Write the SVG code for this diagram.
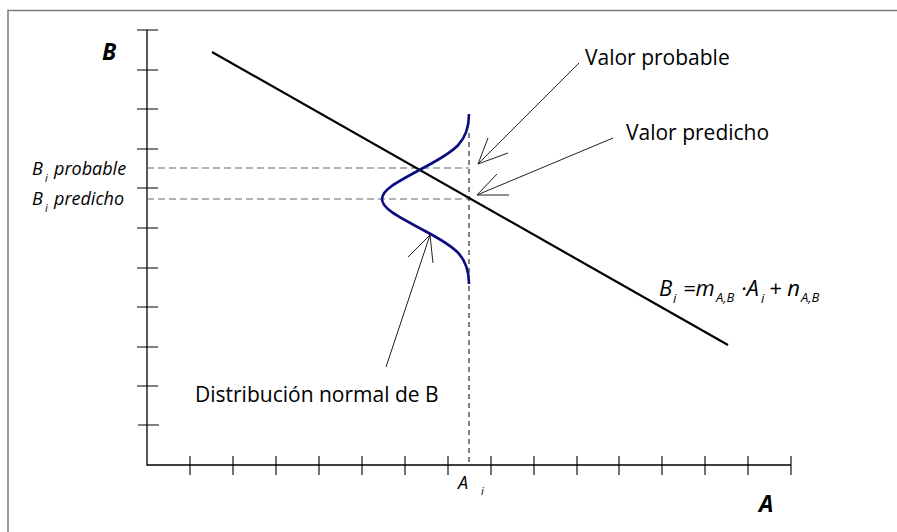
<svg xmlns="http://www.w3.org/2000/svg" width="897" height="532" viewBox="0 0 897 532">
<style>
.frame{fill:none;stroke:#7a7a7a;stroke-width:1.5}
.axis{stroke:#000;stroke-width:1.3;fill:none}
.tick{stroke:#000;stroke-width:1.1}
.hd{stroke:#666;stroke-width:1.2;stroke-dasharray:7 4;fill:none}
.vd{stroke:#000;stroke-width:1;stroke-dasharray:5 4;fill:none}
.reg{stroke:#000;stroke-width:2.2;fill:none}
.curve{stroke:#0b0b80;stroke-width:2.6;fill:none}
.arr{stroke:#222;stroke-width:1;fill:none}
.lbl{font-family:"Open Sans","DejaVu Sans",sans-serif;font-size:21px;fill:#000}
.it{font-family:"Open Sans","DejaVu Sans",sans-serif;font-style:italic;fill:#000}
.bi{font-family:"Open Sans","DejaVu Sans",sans-serif;font-style:italic;font-weight:bold;font-size:23px;fill:#000}
</style>
<rect class="frame" x="8" y="10.5" width="900" height="530"/>
<g id="axes">
<path class="axis" d="M147 30 V465 H791"/>
<g class="tick">
<path d="M137 30 H158 M137 70 H158 M137 109 H158 M137 149 H158 M137 188 H158 M137 228 H158 M137 268 H158 M137 307 H158 M137 347 H158 M137 386 H158 M138 425 H159"/>
<path d="M190 456 V475 M233 456 V475 M276 456 V475 M319 456 V475 M362 456 V475 M405 456 V475 M448 456 V475 M491 456 V475 M534 456 V475 M577 456 V475 M619 456 V475 M662 456 V475 M705 456 V475 M748 456 V475 M791 456 V475"/>
</g>
</g>
<g id="guides">
<path class="hd" d="M147 168 H469 M147 199 H469"/>
<path class="vd" d="M469 133 V465"/>
</g>
<g id="regression-line">
<path class="reg" d="M212 52 L728 345"/>
</g>
<g id="normal-curve">
<path class="curve" d="M469 114 C469 142 455 151 425 167 C395 183 382 190 382 199 C382 208 395 215 425 231 C455 247 469 256 469 284"/>
</g>
<g id="connectors">
<path class="arr" d="M579 63 L478 164 M488 138 L478 164 L508 153"/>
<path class="arr" d="M613 138 L477 195 M497 174 L477 195 L509 195"/>
<path class="arr" d="M386 367 L430 235 M408 257 L430 235 L433 263"/>
</g>
<g id="labels">
<text class="bi" x="102" y="60">B</text>
<text class="bi" x="759" y="512">A</text>
<text class="lbl" x="585" y="65">Valor probable</text>
<text class="lbl" x="626" y="140">Valor predicho</text>
<text class="lbl" x="195" y="402">Distribución normal de B</text>
<text class="it" font-size="18" x="32" y="175">B<tspan font-size="11" x="45" y="182">i</tspan><tspan x="54" y="175">probable</tspan></text>
<text class="it" font-size="18" x="32" y="205">B<tspan font-size="11" x="45" y="212">i</tspan><tspan x="54" y="205">predicho</tspan></text>
<text class="it" font-size="18" x="458" y="489">A<tspan font-size="11" x="481" y="495">i</tspan></text>
<text class="it" font-size="22" x="659" y="296">B<tspan font-size="13" x="673" y="303">i</tspan><tspan x="683" y="296">=m</tspan><tspan font-size="13" x="716" y="302">A,B</tspan><tspan x="741" y="296">·A</tspan><tspan font-size="13" x="761" y="303">i</tspan><tspan x="769" y="296">+ n</tspan><tspan font-size="13" x="801" y="302">A,B</tspan></text>
</g>
</svg>
